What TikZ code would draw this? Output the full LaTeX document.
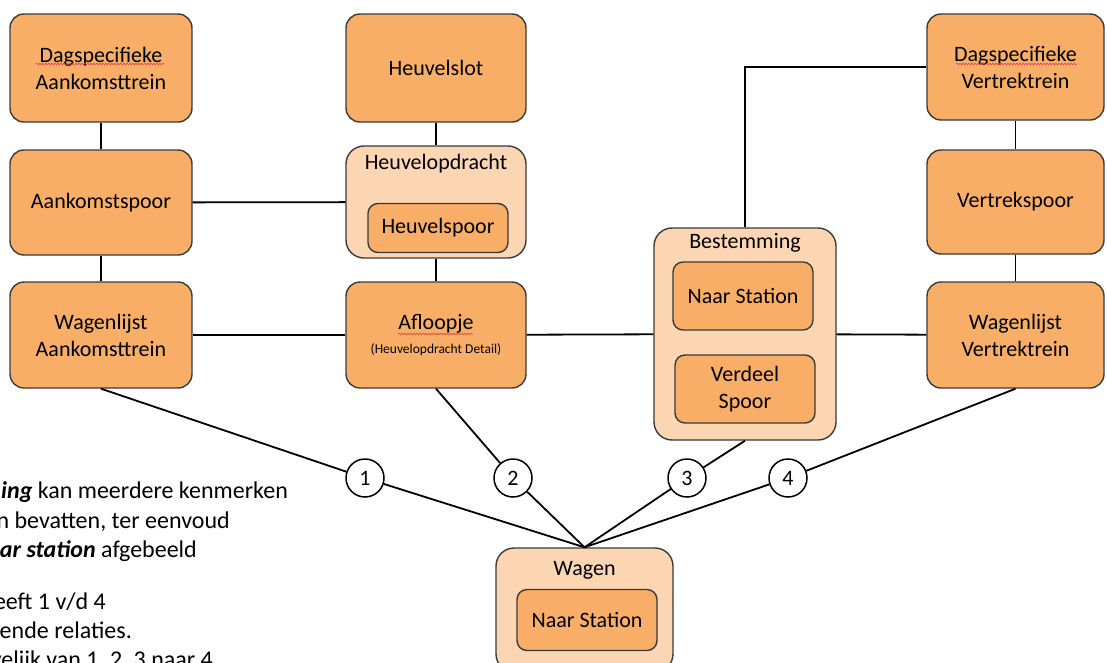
\documentclass[tikz,border=0pt]{standalone}
\usepackage{fontspec}
\setmainfont{Carlito}
\usetikzlibrary{decorations.pathmorphing}
\definecolor{boxorange}{HTML}{F8AE66}
\definecolor{boxlight}{HTML}{FCD6B2}
\definecolor{boxline}{HTML}{3A3A3A}
\definecolor{spellred}{HTML}{E04040}
\tikzset{
  box/.style={draw=boxline, line width=1.4pt, fill=boxorange, rounded corners=14pt,
    align=center, inner sep=0pt, font=\fontsize{22}{27}\selectfont},
  innerbox/.style={box, rounded corners=10pt},
  cont/.style={draw=boxline, line width=1.4pt, fill=boxlight, rounded corners=18pt, inner sep=0pt},
  title/.style={inner sep=0pt, font=\fontsize{22}{27}\selectfont},
  link/.style={draw=black, line width=1.8pt},
  num/.style={circle, draw=black, fill=white, line width=1.5pt, minimum size=38pt,
    inner sep=0pt, font=\fontsize{22}{26}\selectfont},
  note/.style={anchor=base east, inner sep=0pt, font=\fontsize{24}{29}\selectfont},
  squiggle/.style={draw=spellred, line width=0.6pt,
    decorate, decoration={snake, amplitude=0.8pt, segment length=3pt}}
}
\begin{document}
\begin{tikzpicture}[x=1pt, y=-1pt]
\useasboundingbox (0,0) rectangle (1107,662);
\clip (0,0) rectangle (1107,662);

% containers
\node[cont, minimum width=180pt, minimum height=112pt] (hopd) at (436,202) {};
\node[cont, minimum width=182pt, minimum height=212pt] (best) at (745,334) {};
\node[cont, minimum width=177pt, minimum height=124pt] (wagen) at (584.5,610) {};

% container titles
\node[title] (hopdT) at (436,164) {Heuvelopdracht};
\node[title] (bestT) at (745,243) {Bestemming};
\node[title] (wagenT) at (584.5,570) {Wagen};

% inner boxes
\node[innerbox, minimum width=140pt, minimum height=49pt] (hspoor) at (438,228) {Heuvelspoor};
\node[innerbox, minimum width=140pt, minimum height=68pt] (bnaar) at (743,296) {Naar Station};
\node[innerbox, minimum width=140pt, minimum height=68pt] (bverd) at (745,389) {Verdeel\\Spoor};
\node[innerbox, minimum width=140pt, minimum height=61pt] (wnaar) at (587,620) {Naar Station};

% main boxes
\node[box, minimum width=182pt, minimum height=108pt] (dagA) at (101,68) {Dagspecifieke\\Aankomsttrein};
\node[box, minimum width=180pt, minimum height=108pt] (hslot) at (436,68) {Heuvelslot};
\node[box, minimum width=177pt, minimum height=106pt] (dagV) at (1015.5,67) {Dagspecifieke\\Vertrektrein};
\node[box, minimum width=182pt, minimum height=105pt] (aspoor) at (101,202.5) {Aankomstspoor};
\node[box, minimum width=177pt, minimum height=104pt] (vspoor) at (1015.5,202) {Vertrekspoor};
\node[box, minimum width=182pt, minimum height=106pt] (wlA) at (101,335) {Wagenlijst\\Aankomsttrein};
\node[box, minimum width=180pt, minimum height=106pt] (afl) at (436,335)
  {Afloopje\\[-3pt]{\fontsize{13.5}{16}\selectfont (Heuvelopdracht Detail)}};
\node[box, minimum width=177pt, minimum height=106pt] (wlV) at (1015.5,335) {Wagenlijst\\Vertrektrein};

% spell-check underlines
\draw[squiggle] (36,64) -- (164,64);
\draw[squiggle] (956,64) -- (1077,64);
\draw[squiggle] (398,334) -- (473,334);

% numbered relation circles
\node[num] (c1) at (365,478) {1};
\node[num] (c2) at (513,478) {2};
\node[num] (c3) at (687,478) {3};
\node[num] (c4) at (788,478) {4};

% connectors
\draw[link] (dagA) -- (aspoor);
\draw[link] (aspoor) -- (wlA);
\draw[link] (aspoor) -- (hopd);
\draw[link] (hslot) -- (hopd);
\draw[link] (hopd) -- (afl);
\draw[link] (wlA) -- (afl);
\draw[link] (afl) -- (best);
\draw[link] (best) -- (wlV);
\draw[link] (best.north) |- (dagV.west);
\draw[link] (dagV) -- (vspoor);
\draw[link] (vspoor) -- (wlV);

\draw[link] (wlA.south) -- (c1);
\draw[link] (c1) -- (wagen.north);
\draw[link] (afl.south) -- (c2);
\draw[link] (c2) -- (wagen.north);
\draw[link] (best.south) -- (c3);
\draw[link] (c3) -- (wagen.north);
\draw[link] (wlV.south) -- (c4);
\draw[link] (c4) -- (wagen.north);

% note text (cut off at the left and bottom edges, as in the reference)
\node[note] (n1) at (288,498) {{\bfseries\itshape ing} kan meerdere kenmerken};
\node[note] (n2) at (230,528) {n bevatten, ter eenvoud};
\node[note] (n3) at (197,557) {{\bfseries\itshape ar station} afgebeeld};
\node[note] (n4) at (106,609) {eeft 1 v/d 4};
\node[note] (n5) at (132,638) {ende relaties.};
\node[note] (n6) at (213,667) {velijk van 1, 2, 3 naar 4};
\end{tikzpicture}
\end{document}
